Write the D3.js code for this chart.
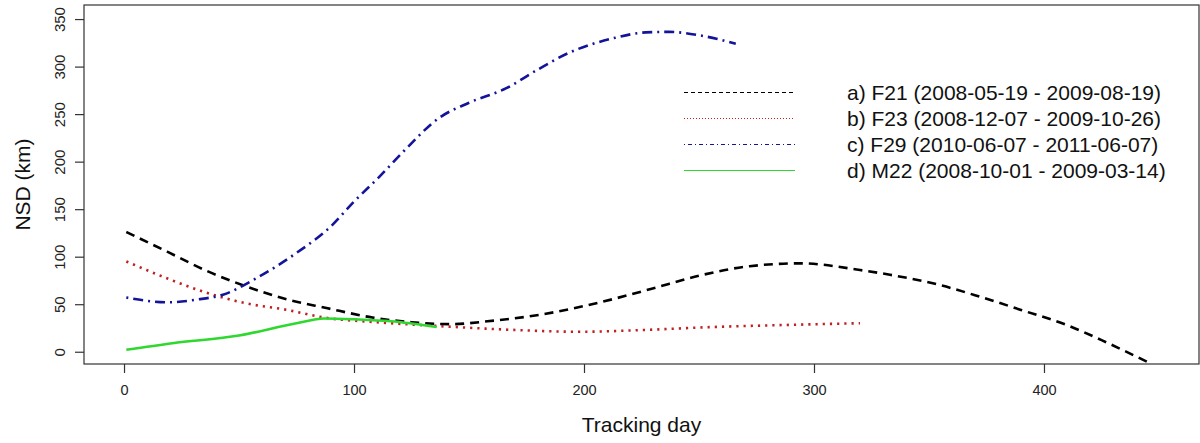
<!DOCTYPE html>
<html>
<head>
<meta charset="utf-8">
<script src="https://cdn.jsdelivr.net/npm/d3@7"></script>
<style>
  html, body { margin: 0; padding: 0; background: #fff; }
  svg { display: block; font-family: "Liberation Sans", Arial, sans-serif; }
</style>
</head>
<body>
<svg id="chart" width="1200" height="443"></svg>
<script>
// Net squared displacement (NSD) per tracking day, smoothed per individual
const seriesNames = ["a", "b", "c", "d"];
const legendLabels = [
  "a) F21 (2008-05-19 - 2009-08-19)",
  "b) F23 (2008-12-07 - 2009-10-26)",
  "c) F29 (2010-06-07 - 2011-06-07)",
  "d) M22 (2008-10-01 - 2009-03-14)"
];
const f21Days = [1, 19, 36, 54, 71, 88, 108, 125, 142, 158, 181, 198, 207, 229, 250, 272, 294, 320, 333, 355, 372, 390, 410, 427, 446];
const f21Nsd  = [126, 105, 85, 68, 55, 46, 36, 31, 29, 32, 39, 47, 52, 66, 80, 90, 93, 86, 81, 70, 58, 44, 28, 10, -12];
const f23Days = [1, 20, 36, 53, 71, 87, 110, 137, 169, 198, 227, 256, 285, 320];
const f23Nsd  = [95, 76, 62, 51, 44, 36, 31, 27, 23, 21, 23, 26, 28, 30];
const f29Days = [1, 19, 32, 43, 58, 75, 90, 100, 111, 122, 137, 150, 166, 180, 193, 213, 227, 237, 250, 266];
const f29Nsd  = [57, 52, 55, 60, 78, 104, 132, 158, 184, 212, 246, 262, 277, 297, 314, 330, 336, 336.5, 333, 324];
const m22Days = [1, 21, 50, 75, 87, 101, 116, 136];
const m22Nsd  = [2, 9, 17, 30, 35, 34, 32, 26];
const xTicks = [0, 100, 200, 300, 400];
const yTicks = [0, 50, 100, 150, 200, 250, 300, 350];

const series = [
  { key: "a", days: f21Days, nsd: f21Nsd, color: "#000000", dash: "9,6",       legendDash: "4,3" },
  { key: "b", days: f23Days, nsd: f23Nsd, color: "#c02020", dash: "2.2,5",     legendDash: "1,2" },
  { key: "c", days: f29Days, nsd: f29Nsd, color: "#14149a", dash: "2,5,10,5",  legendDash: "1,3,4,3" },
  { key: "d", days: m22Days, nsd: m22Nsd, color: "#2ed82e", dash: null,        legendDash: null }
];

const svg = d3.select("#chart");
const box = { left: 84, right: 1199, top: 5, bottom: 364 };

const x = d3.scaleLinear().domain([-17.4, 467.4]).range([box.left, box.right]);
const y = d3.scaleLinear().domain([-12.9, 364.8]).range([box.bottom, box.top]);

// smoothed curves
const line = d3.line()
  .x(d => x(d[0]))
  .y(d => y(d[1]))
  .curve(d3.curveMonotoneX);

const plot = svg.append("g");
series.forEach(s => {
  const pts = s.days.map((d, i) => [d, s.nsd[i]]);
  plot.append("path")
    .datum(pts)
    .attr("d", line)
    .attr("fill", "none")
    .attr("stroke", s.color)
    .attr("stroke-width", 2.6)
    .attr("stroke-dasharray", s.dash)
    .attr("stroke-linecap", "butt");
});

// frame
svg.append("rect")
  .attr("x", box.left).attr("y", box.top)
  .attr("width", box.right - box.left).attr("height", box.bottom - box.top)
  .attr("fill", "none").attr("stroke", "#333").attr("stroke-width", 1.2);

// x axis
const xAxis = d3.axisBottom(x).tickValues(xTicks).tickSize(9).tickPadding(12)
  .tickFormat(d3.format("d"));
const gx = svg.append("g").attr("transform", `translate(0,${box.bottom})`).call(xAxis);
gx.select(".domain").remove();
gx.selectAll(".tick line").attr("stroke", "#333").attr("stroke-width", 1.2);
gx.selectAll(".tick text").attr("font-size", 14.5).attr("fill", "#222")
  .attr("font-family", "Liberation Sans, Arial, sans-serif");

// y axis with rotated labels
const yAxis = d3.axisLeft(y).tickValues(yTicks).tickSize(9).tickFormat(d3.format("d"));
const gy = svg.append("g").attr("transform", `translate(${box.left},0)`).call(yAxis);
gy.select(".domain").remove();
gy.selectAll(".tick line").attr("stroke", "#333").attr("stroke-width", 1.2);
gy.selectAll(".tick text")
  .attr("font-size", 15).attr("fill", "#222")
  .attr("font-family", "Liberation Sans, Arial, sans-serif")
  .attr("x", null).attr("dy", null)
  .attr("text-anchor", "middle")
  .attr("transform", "translate(-19,0) rotate(-90)");

// axis titles
svg.append("text")
  .attr("x", (box.left + box.right) / 2).attr("y", 432)
  .attr("text-anchor", "middle").attr("font-size", 21).attr("fill", "#111")
  .text("Tracking day");
svg.append("text")
  .attr("transform", `translate(30,${(box.top + box.bottom) / 2}) rotate(-90)`)
  .attr("text-anchor", "middle").attr("font-size", 21).attr("fill", "#111")
  .text("NSD (km)");

// legend
const legendRowY = d3.scalePoint().domain(seriesNames).range([92, 170]);
const legend = svg.append("g");
series.forEach((s, i) => {
  const yy = Math.round(legendRowY(s.key)) + 0.5;
  legend.append("line")
    .attr("x1", 684).attr("x2", 795).attr("y1", yy).attr("y2", yy)
    .attr("stroke", s.color).attr("stroke-width", 1.2)
    .attr("stroke-dasharray", s.legendDash)
    .attr("shape-rendering", "crispEdges");
  legend.append("text")
    .attr("x", 847).attr("y", yy + 7.5)
    .attr("font-size", 21).attr("fill", "#111")
    .text(legendLabels[i]);
});
</script>
</body>
</html>
